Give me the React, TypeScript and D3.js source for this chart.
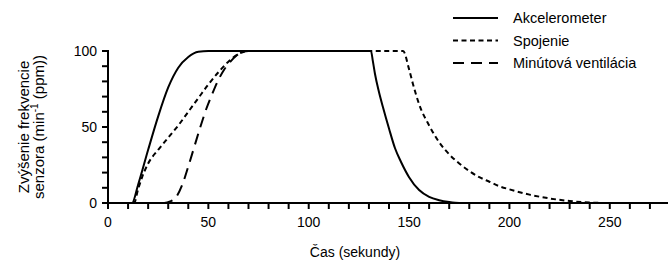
import React from "react";
import * as d3 from "d3";

const xTicksMajor = [0, 50, 100, 150, 200, 250];
const yTicksMajor = [0, 50, 100];

const akcelT = [0, 12, 15, 20, 25, 30, 35, 40, 45, 50, 131, 132, 133, 135, 137, 140, 143, 146, 150, 155, 160, 165, 170, 175, 180];
const akcelV = [0, 0, 12, 35, 57, 76, 89, 96, 99.5, 100, 100, 93, 85, 73, 63, 49, 36, 27, 17, 8.5, 4, 1.8, 0.6, 0, 0];

const spojT = [0, 13, 15, 17, 20, 25, 30, 35, 40, 45, 50, 55, 60, 65, 70, 147, 150, 152, 155, 160, 165, 170, 175, 180, 185, 190, 195, 200, 210, 220, 230, 240, 250];
const spojV = [0, 0, 9, 17, 26, 35, 43, 51, 60, 69, 78, 86, 93, 98, 100, 100, 88, 78, 65, 51, 40, 32, 26, 21, 17, 14, 11, 9, 5.5, 3, 1.3, 0.3, 0];

const minT = [0, 28, 31, 34, 37, 40, 43, 46, 49, 52, 55, 58, 61, 64, 67, 70];
const minV = [0, 0, 1, 4, 12, 24, 37, 50, 62, 72, 81, 88, 93, 97, 99.5, 100];

const seriesNames = ["Akcelerometer", "Spojenie", "Minútová ventilácia"];
const dashes = ["none", "5 3.5", "11 7"];

const W = 668;
const H = 262;

export default function App() {
  const x = d3.scaleLinear().domain([0, 280]).range([108, 670]);
  const y = d3.scaleLinear().domain([0, 100]).range([203, 51]);
  const line = d3
    .line<[number, number]>()
    .x((d) => x(d[0]))
    .y((d) => y(d[1]))
    .curve(d3.curveMonotoneX);

  const series = [
    akcelT.map((t, i) => [t, akcelV[i]] as [number, number]),
    spojT.map((t, i) => [t, spojV[i]] as [number, number]),
    minT.map((t, i) => [t, minV[i]] as [number, number]),
  ];

  const xMinor = d3.range(0, 281, 10);
  const yMinor = d3.range(0, 101, 10);
  const font = "'Liberation Sans', Arial, sans-serif";

  return (
    <svg
      width={W}
      height={H}
      style={{ position: "absolute", left: 0, top: 0, background: "#fff" }}
      fontFamily={font}
    >
      {/* axes */}
      <line x1={x(0)} x2={W} y1={y(0)} y2={y(0)} stroke="#000" strokeWidth={2} />
      <line x1={x(0)} x2={x(0)} y1={y(0) + 1} y2={y(100) - 1} stroke="#000" strokeWidth={2} />
      {xMinor.map((t) => (
        <line key={"xt" + t} x1={x(t)} x2={x(t)} y1={y(0)} y2={y(0) + 6} stroke="#000" strokeWidth={2} />
      ))}
      {yMinor.map((v) => (
        <line key={"yt" + v} x1={x(0) - 6} x2={x(0)} y1={y(v)} y2={y(v)} stroke="#000" strokeWidth={2} />
      ))}
      {xTicksMajor.map((t) => (
        <text key={"xl" + t} x={x(t)} y={227} textAnchor="middle" fontSize={14} fill="#000">
          {t}
        </text>
      ))}
      {yTicksMajor.map((v) => (
        <text key={"yl" + v} x={97} y={y(v) + 5} textAnchor="end" fontSize={14} fill="#000">
          {v}
        </text>
      ))}
      <text x={355} y={257} textAnchor="middle" fontSize={14} fill="#000">
        Čas (sekundy)
      </text>
      <g transform="translate(29,127) rotate(-90)">
        <text x={0} y={0} textAnchor="middle" fontSize={15} fill="#000">
          Zvýšenie frekvencie
        </text>
        <text x={0} y={15} textAnchor="middle" fontSize={15} fill="#000">
          senzora (min
          <tspan fontSize={10} dy={-6}>-1</tspan>
          <tspan dy={6}> (ppm))</tspan>
        </text>
      </g>

      {/* series */}
      {series.map((s, i) => (
        <path
          key={"s" + i}
          d={line(s) || ""}
          fill="none"
          stroke="#000"
          strokeWidth={2}
          strokeDasharray={dashes[i]}
        />
      ))}

      {/* legend */}
      {seriesNames.map((n, i) => (
        <g key={"lg" + i} transform={`translate(0, ${18 + i * 22.5})`}>
          <line x1={453} x2={498} y1={0} y2={0} stroke="#000" strokeWidth={2} strokeDasharray={dashes[i]} />
          <text x={513} y={5} fontSize={14.5} fill="#000">
            {n}
          </text>
        </g>
      ))}
    </svg>
  );
}
